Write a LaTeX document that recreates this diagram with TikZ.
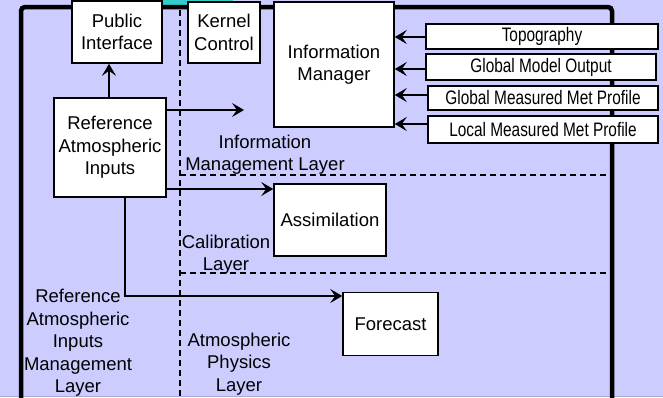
\documentclass[tikz,border=0pt]{standalone}
\usepackage{fontspec}
\setmainfont{Liberation Sans}
\newfontfamily\narrowfont[FakeStretch=0.79]{Liberation Sans}
\usetikzlibrary{arrows.meta}
\definecolor{bg}{HTML}{CCCCFF}
\definecolor{tealtab}{HTML}{33CCCC}
\definecolor{edgeline}{HTML}{A8A8E0}
\begin{document}
\begin{tikzpicture}[x=1pt,y=-1pt,
  box/.style={draw=black, line width=1.6pt, fill=white, align=center,
    font=\fontsize{18.5}{22.5}\selectfont, inner sep=0pt},
  src/.style={box, font=\narrowfont\fontsize{19.5}{21}\selectfont},
  lbl/.style={align=center, font=\fontsize{18.5}{22.5}\selectfont, inner sep=0pt},
  conn/.style={line width=1.5pt, -{Stealth[length=12pt,width=14pt,inset=5pt]}},
  layer/.style={line width=1.5pt, dash pattern=on 6pt off 4pt},
  frame/.style={line width=4.5pt, rounded corners=4pt}]
% background
\fill[bg] (0,0) rectangle (663,397);
\useasboundingbox (0,0) rectangle (663,397);
\draw[edgeline, line width=1pt] (0,396.5) -- (663,396.5);
\fill[tealtab] (162,0) rectangle (233,8);
% frame
\draw[frame] (21,402) -- (21,7) -- (612,7) -- (612,402);
% layer dividers
\coordinate (vt) at (180,10);
\coordinate (vb) at (180,397);
\coordinate (h1a) at (180,175);
\coordinate (h1b) at (610,175);
\coordinate (h2a) at (180,273);
\coordinate (h2b) at (610,273);
\draw[layer] (vt) -- (vb);
\draw[layer] (h1a) -- (h1b);
\draw[layer] (h2a) -- (h2b);
% boxes
\node[box, minimum width=90pt, minimum height=62pt] (PI) at (117,32) {Public\\Interface};
\node[box, minimum width=72pt, minimum height=61pt] (KC) at (224,32.5) {Kernel\\Control};
\node[box, minimum width=120pt, minimum height=125pt] (IM) at (334,64.5) {Information\\Manager};
\node[src, minimum width=232pt, minimum height=25pt] (topo) at (542,36.5) {Topography};
\node[src, minimum width=230pt, minimum height=26pt] (gmo) at (541,67) {Global Model Output};
\node[src, minimum width=230pt, minimum height=24pt] (gmmp) at (543,98) {Global Measured Met Profile};
\node[src, minimum width=230pt, minimum height=27pt] (lmmp) at (543,129.5) {Local Measured Met Profile};
\node[box, minimum width=112pt, minimum height=99pt] (RAI) at (110,147.5) {Reference\\Atmospheric\\Inputs};
\node[box, minimum width=112pt, minimum height=72pt] (AS) at (330,220) {Assimilation};
\node[box, minimum width=95pt, minimum height=63pt] (FC) at (390.5,324) {Forecast};
% labels
\node[lbl] (l1) at (265,154.5) {Information\\Management Layer};
\node[lbl] (l2) at (226,254.5) {Calibration\\Layer};
\node[lbl] (l3) at (78,343) {Reference\\Atmospheric\\Inputs\\Management\\Layer};
\node[lbl] (l4) at (239,364) {Atmospheric\\Physics\\Layer};
% helper coordinates
\coordinate (y37) at (0,37);
\coordinate (y69) at (0,69);
\coordinate (y95) at (0,95);
\coordinate (y124) at (0,124);
\coordinate (y110) at (0,110);
\coordinate (y189) at (0,189);
\coordinate (y296) at (0,296);
\coordinate (x109) at (109,0);
\coordinate (x125) at (125,0);
\coordinate (free) at (244,110);
\coordinate (bend) at (125,296);
% connectors
\draw[conn] (topo.west |- y37) -- (IM.east |- y37);
\draw[conn] (gmo.west |- y69) -- (IM.east |- y69);
\draw[conn] (gmmp.west |- y95) -- (IM.east |- y95);
\draw[conn] (lmmp.west |- y124) -- (IM.east |- y124);
\draw[conn] (RAI.north -| x109) -- (PI.south -| x109);
\draw[conn] (RAI.east |- y110) -- (free);
\draw[conn] (RAI.east |- y189) -- (AS.west |- y189);
\draw[conn] (RAI.south -| x125) -- (bend) -- (FC.west |- y296);
\end{tikzpicture}
\end{document}
